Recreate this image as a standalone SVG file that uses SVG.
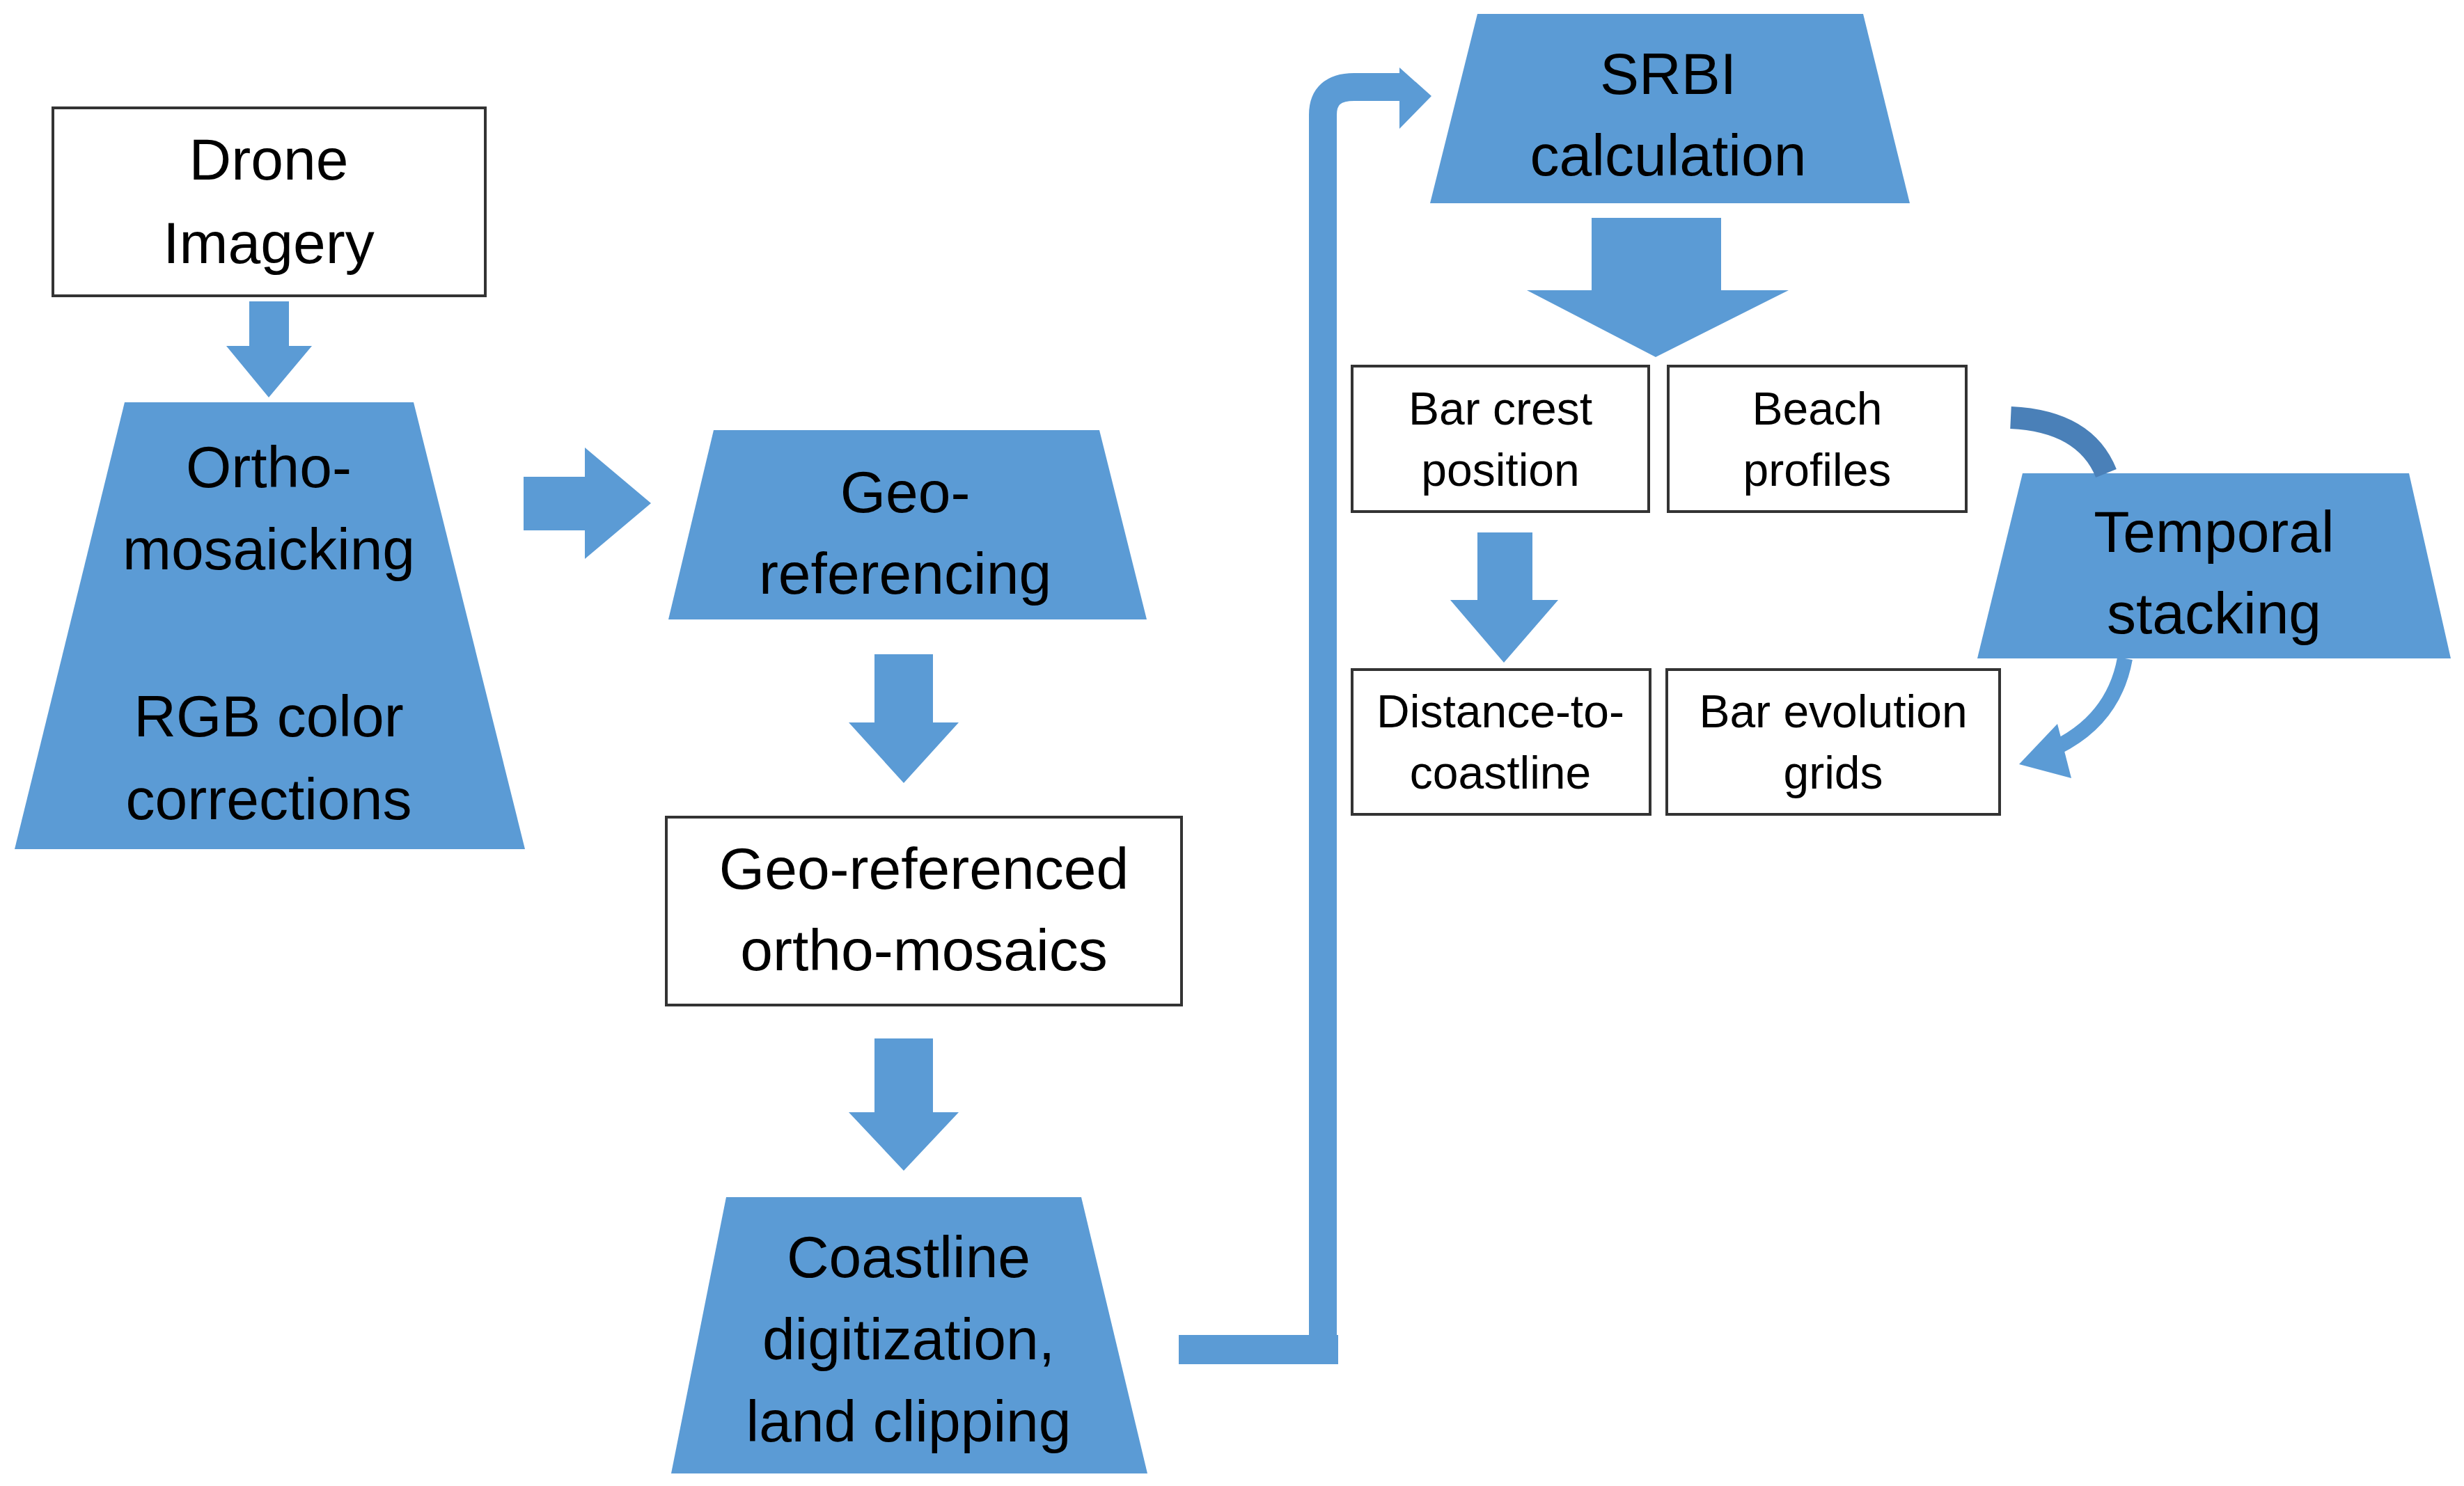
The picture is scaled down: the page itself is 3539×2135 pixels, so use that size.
<svg xmlns="http://www.w3.org/2000/svg" width="3539" height="2135" viewBox="0 0 3539 2135">
<style>
.sh{fill:#5b9bd5}
.bx{fill:#fff;stroke:#333;stroke-width:4}
.t{font-family:"Liberation Sans",Arial,sans-serif;fill:#000;text-anchor:middle}
.b{font-size:84px}
.s{font-size:66px}
</style>
<rect width="3539" height="2135" fill="#fff"/>
<g id="drone"><rect class="bx" x="76" y="155" width="621" height="270"/>
<text class="t b" x="386" y="258">Drone</text><text class="t b" x="386" y="378">Imagery</text></g>
<g id="ortho"><polygon class="sh" points="179,578 594,578 754,1220 21,1220"/>
<text class="t b" x="386" y="700">Ortho-</text><text class="t b" x="386" y="818">mosaicking</text>
<text class="t b" x="386" y="1058">RGB color</text><text class="t b" x="386" y="1177">corrections</text></g>
<g id="geo"><polygon class="sh" points="1025,618 1579,618 1647,890 960,890"/>
<text class="t b" x="1300" y="736">Geo-</text><text class="t b" x="1300" y="853">referencing</text></g>
<g id="georef"><rect class="bx" x="957" y="1174" width="740" height="270"/>
<text class="t b" x="1327" y="1277">Geo-referenced</text><text class="t b" x="1327" y="1394">ortho-mosaics</text></g>
<g id="coast"><polygon class="sh" points="1043,1720 1553,1720 1648,2117 964,2117"/>
<text class="t b" x="1305" y="1835">Coastline</text><text class="t b" x="1305" y="1953">digitization,</text><text class="t b" x="1305" y="2071">land clipping</text></g>
<g id="srbi"><polygon class="sh" points="2122,20 2676,20 2743,292 2054,292"/>
<text class="t b" x="2396" y="135">SRBI</text><text class="t b" x="2396" y="252">calculation</text></g>
<g id="barcrest"><rect class="bx" x="1942" y="526" width="426" height="209"/>
<text class="t s" x="2155" y="610">Bar crest</text><text class="t s" x="2155" y="698">position</text></g>
<g id="beach"><rect class="bx" x="2396" y="526" width="428" height="209"/>
<text class="t s" x="2610" y="610">Beach</text><text class="t s" x="2610" y="698">profiles</text></g>
<g id="dist"><rect class="bx" x="1942" y="962" width="428" height="208"/>
<text class="t s" x="2155" y="1045">Distance-to-</text><text class="t s" x="2155" y="1133">coastline</text></g>
<g id="barevo"><rect class="bx" x="2394" y="962" width="478" height="208"/>
<text class="t s" x="2633" y="1045">Bar evolution</text><text class="t s" x="2633" y="1133">grids</text></g>
<g id="temporal"><polygon class="sh" points="2905,680 3460,680 3520,946 2840,946"/>
<text class="t b" x="3180" y="793">Temporal</text><text class="t b" x="3180" y="910">stacking</text></g>
<g id="connectors">
<polygon class="sh" points="358,433 415,433 415,497 448,497 386,571 325,497 358,497"/>
<polygon class="sh" points="752,685 840,685 840,643 935,723 840,803 840,762 752,762"/>
<polygon class="sh" points="1256,940 1340,940 1340,1038 1377,1038 1298,1125 1219,1038 1256,1038"/>
<polygon class="sh" points="1256,1492 1340,1492 1340,1598 1377,1598 1298,1682 1219,1598 1256,1598"/>
<rect class="sh" x="1693" y="1918" width="229" height="42"/>
<path d="M1900,1960 V165 Q1900,125 1945,125 H2012" fill="none" stroke="#5b9bd5" stroke-width="40"/>
<polygon class="sh" points="2010,97 2056,138 2010,185"/>
<polygon class="sh" points="2286,313 2472,313 2472,417 2569,417 2378,513 2193,417 2286,417"/>
<polygon class="sh" points="2122,765 2201,765 2201,862 2238,862 2160,952 2083,862 2122,862"/>
<path d="M2888,600 Q2995,605 3025,680" fill="none" stroke="#4a80b8" stroke-width="32"/>
<path d="M3052,946 Q3035,1040 2940,1080" fill="none" stroke="#5b9bd5" stroke-width="22"/>
<polygon class="sh" points="2955,1040 2900,1098 2975,1118"/>
</g>
</svg>
